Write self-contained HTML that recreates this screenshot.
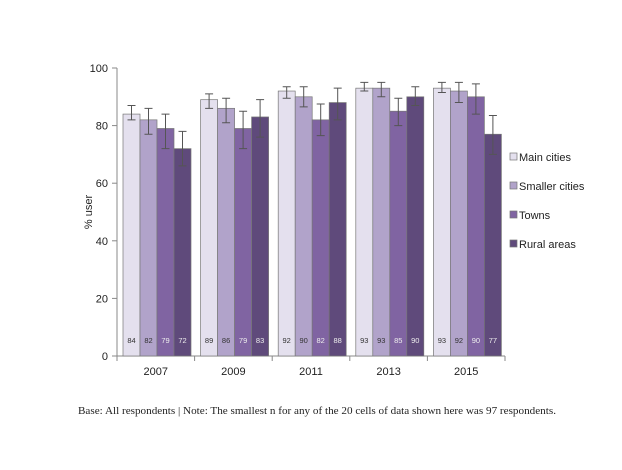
<!DOCTYPE html>
<html><head><meta charset="utf-8"><style>
body{margin:0;background:#fff;}
svg text{font-family:"Liberation Sans",sans-serif;}
</style></head><body>
<svg width="622" height="465">
<g id="plot"></g>
<text x="78" y="414" font-size="11" textLength="478" lengthAdjust="spacingAndGlyphs" fill="#222" style="font-family:'Liberation Serif',serif">Base: All respondents | Note: The smallest n for any of the 20 cells of data shown here was 97 respondents.</text>
</svg>
<script>
const years=["2007","2009","2011","2013","2015"];
const seriesNames=["Main cities","Smaller cities","Towns","Rural areas"];
const mainCities=[84,89,92,93,93];
const smallerCities=[82,86,90,93,92];
const towns=[79,79,82,85,90];
const rural=[72,83,88,90,77];
const mainLo=[82,86,89.5,92,91.5], mainHi=[87,91,93.5,95,95];
const smallLo=[77,81,86.5,90,88], smallHi=[86,89.5,93.5,95,95];
const townLo=[72,72,76.5,80,84], townHi=[84,85,87.5,89.5,94.5];
const ruralLo=[66,76,82,87,70], ruralHi=[78,89,93,93.5,83.5];
const yTicks=[0,20,40,60,80,100];
const NS="http://www.w3.org/2000/svg";
const g=document.getElementById('plot');
const x0=117,x1=505,yB=356,yT=68;
const y=v=>yB-(yB-yT)*v/100;
const gw=(x1-x0)/years.length,bw=17,pad=6;
const colors=["#e4e0ee","#b1a3ca","#8064a2","#5f4a7b"];
const labelCol=["#333","#333","#eee","#eee"];
const vals=[mainCities,smallerCities,towns,rural];
const los=[mainLo,smallLo,townLo,ruralLo],his=[mainHi,smallHi,townHi,ruralHi];
function el(t,a,txt){const e=document.createElementNS(NS,t);for(const k in a)e.setAttribute(k,a[k]);if(txt!==undefined)e.textContent=txt;g.appendChild(e);return e;}
let ax=el('line',{x1:x0,y1:yT,x2:x0,y2:yB,stroke:'#888'});


yTicks.forEach(t=>{
 let l=el('line',{x1:x0-5,x2:x0,y1:y(t),y2:y(t),stroke:'#888'});
 
 
 let tx=el('text',{x:x0-9,y:y(t)+4,'text-anchor':'end','font-size':11,fill:'#222'},t);
 
 
});
let yt=el('text',{transform:`translate(92,${(yT+yB)/2}) rotate(-90)`,'text-anchor':'middle','font-size':11,fill:'#222'},'% user');


let xa=el('line',{x1:x0,y1:yB,x2:x1,y2:yB,stroke:'#888'});


for(let i=0;i<=years.length;i++){let l=el('line',{x1:x0+i*gw,x2:x0+i*gw,y1:yB,y2:yB+5,stroke:'#888'});
 
 }
years.forEach((yr,i)=>{
 let tx=el('text',{x:x0+i*gw+gw/2,y:yB+19,'text-anchor':'middle','font-size':11,fill:'#222'},yr);
 
 
 vals.forEach((s,j)=>{
  const bx=x0+i*gw+pad+j*bw,v=s[i];
  let r=el('rect',{x:bx,y:y(v),width:bw,height:yB-y(v),fill:colors[j],stroke:'#777','stroke-width':0.7});
  
  
  let lb=el('text',{x:bx+bw/2,y:yB-13,'text-anchor':'middle','font-size':7.5,fill:labelCol[j]},v);
  
  
  const cx=bx+bw/2,lo=y(los[j][i]),hi=y(his[j][i]);
  let eb=el('path',{d:`M${cx},${lo}V${hi}M${cx-4},${lo}H${cx+4}M${cx-4},${hi}H${cx+4}`,stroke:'#555','stroke-width':1,fill:'none'});
  
  
 });
});
seriesNames.forEach((n,j)=>{
 const ly=158+j*29;
 let r=el('rect',{x:510,y:ly-5,width:7,height:7,fill:colors[j],stroke:'#777','stroke-width':0.7});
 
 
 let t=el('text',{x:519,y:ly+3,'font-size':11,fill:'#222'},n);
 
 
});
</script>
</body></html>
